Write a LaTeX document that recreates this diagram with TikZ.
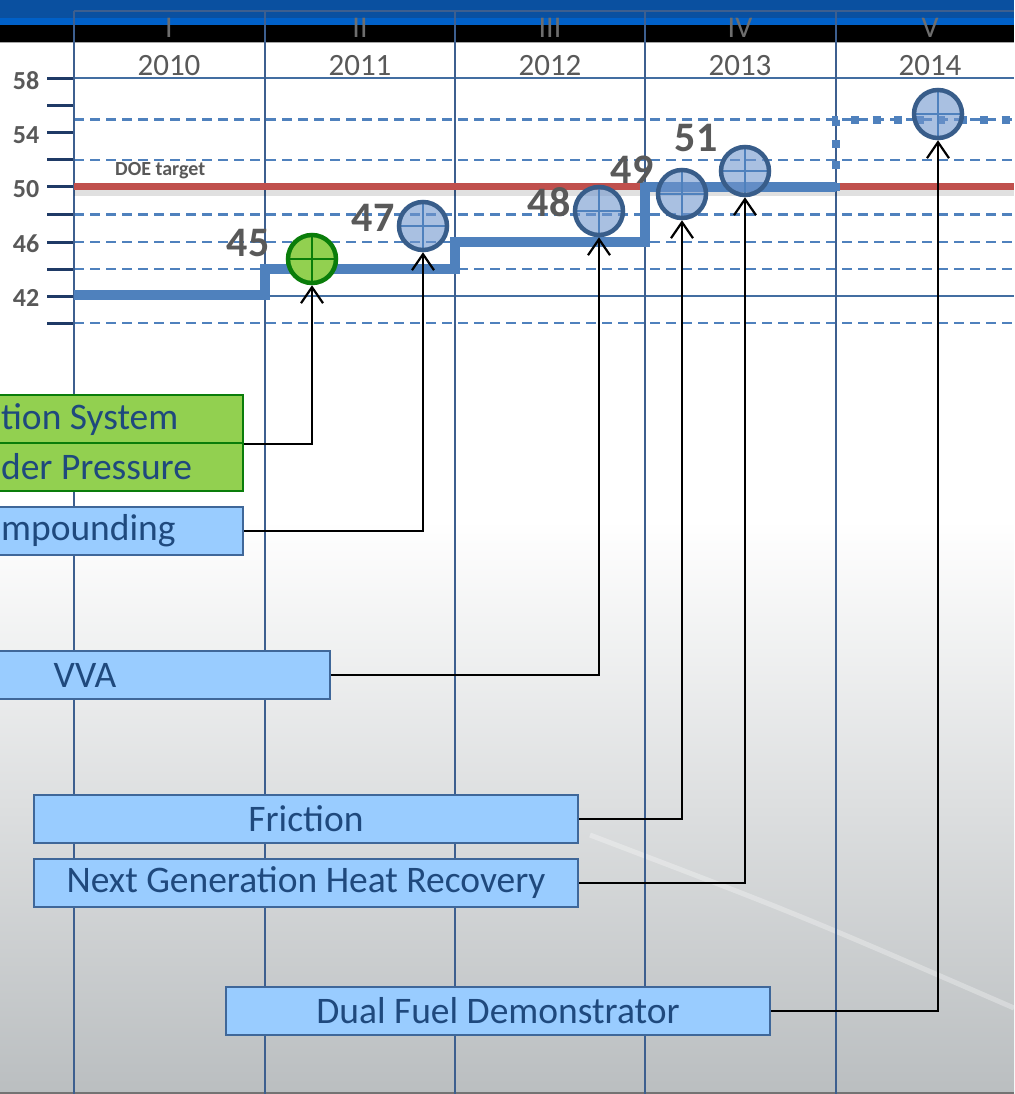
\documentclass[tikz,border=0pt]{standalone}
\usepackage{fontspec}
\setmainfont{Carlito}
\usetikzlibrary{arrows.meta}
\definecolor{hdrblue}{RGB}{10,80,160}
\definecolor{hdrblue2}{RGB}{0,96,200}
\definecolor{colblue}{RGB}{61,95,143}
\definecolor{dashblue}{RGB}{79,129,189}
\definecolor{navy}{RGB}{31,58,102}
\definecolor{targetred}{RGB}{192,80,77}
\definecolor{labgray}{RGB}{89,89,89}
\definecolor{romgray}{RGB}{110,110,110}
\definecolor{boxfill}{RGB}{153,204,255}
\definecolor{boxborder}{RGB}{63,103,153}
\definecolor{boxtext}{RGB}{31,73,125}
\definecolor{gfill}{RGB}{146,208,80}
\definecolor{gborder}{RGB}{10,125,10}
\definecolor{circborder}{RGB}{56,93,138}
\definecolor{circfill}{RGB}{113,150,205}
\definecolor{bgbottom}{RGB}{186,190,192}
\tikzset{
  colline/.style={draw=colblue, line width=2.5pt},
  dashgrid/.style={draw=dashblue, line width=2.2pt, dash pattern=on 10pt off 6pt},
  solidgrid/.style={draw=dashblue!85!black, line width=2pt},
  tickmark/.style={draw=navy, line width=3pt},
  ylab/.style={text=labgray, font=\fontsize{26}{30}\selectfont\bfseries, inner sep=0pt, text depth=0pt},
  yearlab/.style={text=labgray, font=\fontsize{31}{36}\selectfont, inner sep=0pt, text depth=0pt},
  romlab/.style={text=romgray, font=\fontsize{30}{36}\selectfont, inner sep=0pt, text depth=0pt},
  vallab/.style={text=labgray, font=\fontsize{42}{48}\selectfont\bfseries, inner sep=0pt, text depth=0pt},
  bbox/.style={rectangle, draw=boxborder, fill=boxfill, line width=2.2pt, minimum height=48pt,
    inner sep=0pt, text=boxtext, font=\fontsize{37.5}{44}\selectfont},
  gbox/.style={bbox, draw=gborder, fill=gfill},
  mcirc/.style={circle, minimum size=48pt, inner sep=0pt, draw=circborder, fill=circfill,
    fill opacity=0.6, line width=4.5pt,
    path picture={\draw[dashblue, line width=2pt, draw opacity=1]
      (path picture bounding box.north) -- (path picture bounding box.south)
      (path picture bounding box.west) -- (path picture bounding box.east);}},
  gcirc/.style={circle, minimum size=48pt, inner sep=0pt, draw=gborder, fill=gfill,
    line width=4.5pt,
    path picture={\draw[gborder, line width=2pt]
      (path picture bounding box.north) -- (path picture bounding box.south)
      (path picture bounding box.west) -- (path picture bounding box.east);}},
  conn/.style={draw=black, line width=2.2pt, -{Straight Barb[length=16pt, width=22pt]}},
  stepline/.style={draw=dashblue, line width=10pt},
  dotline/.style={draw=dashblue, line width=8pt, dash pattern=on 8pt off 13.5pt}
}
\begin{document}
\begin{tikzpicture}[x=1pt,y=-1pt]
\useasboundingbox (0,0) rectangle (1014,1094);
\clip (0,0) rectangle (1014,1094);
% background
\fill[white] (0,0) rectangle (1014,1094);
\shade[top color=white, bottom color=bgbottom] (0,520) rectangle (1014,1094);
\draw[white, opacity=0.3, line width=5pt] (590,835) .. controls (800,915) .. (1014,1008);
\draw[black!55, line width=2pt] (0,1093) -- (1014,1093);
% header bands
\fill[hdrblue] (0,0) rectangle (1014,18);
\fill[hdrblue2] (0,18) rectangle (1014,25);
\fill[black] (0,25) rectangle (1014,42);
\draw[black!35, line width=1.5pt] (0,42.5) -- (1014,42.5);
% roman numerals and years
\node[romlab] (r1) at (169,28) {I};
\node[romlab] (r2) at (360,28) {II};
\node[romlab] (r3) at (550,28) {III};
\node[romlab] (r4) at (740,28) {IV};
\node[romlab] (r5) at (930,28) {V};
\node[yearlab] (y1) at (169,65) {2010};
\node[yearlab] (y2) at (360,65) {2011};
\node[yearlab] (y3) at (550,65) {2012};
\node[yearlab] (y4) at (740,65) {2013};
\node[yearlab] (y5) at (930,65) {2014};
% horizontal grid
\draw[colline, line width=2pt] (74,11) -- (1014,11);
\draw[solidgrid] (74,78.5) -- (1014,78.5);
\draw[solidgrid] (74,296) -- (1014,296);
\foreach \yy in {119.5,160,214.5,242,269,323}
  \draw[dashgrid] (74,\yy) -- (1014,\yy);
% ticks
\foreach \yy in {78.5,105.5,133,160,187,214.5,242,269,296,323}
  \draw[tickmark] (47,\yy) -- (74,\yy);
% y labels
\node[ylab] (l58) at (26,81) {58};
\node[ylab] (l54) at (26,135) {54};
\node[ylab] (l50) at (26,189) {50};
\node[ylab] (l46) at (26,244) {46};
\node[ylab] (l42) at (26,298) {42};
% column lines
\foreach \xx in {74,265,455,645,836}
  \draw[colline] (\xx,11) -- (\xx,1094);
% DOE target
\draw[black, opacity=0.12, line width=6pt] (74,193) -- (1014,193);
\draw[targetred, line width=7pt] (74,187) -- (1014,187);
\node[text=labgray, font=\fontsize{20}{24}\selectfont\bfseries, inner sep=0pt, anchor=west] (doe) at (115,171) {DOE target};
% step line
\draw[stepline] (74,295) -- (265,295) -- (265,269) -- (455,269) -- (455,242) -- (645,242) -- (645,187) -- (836,187);
\draw[dotline] (836,191) -- (836,120) -- (1014,120);
% boxes
\node[gbox, anchor=north west, text width=240pt, inner xsep=2pt, align=flush left] (g1) at (-2,394) {tion System};
\node[gbox, anchor=north west, text width=240pt, inner xsep=2pt, align=flush left] (g2) at (-2,442) {der Pressure};
\node[bbox, anchor=north west, text width=240pt, inner xsep=2pt, align=flush left] (cp) at (-2,506) {mpounding};
\node[bbox, minimum width=490pt] (vva) at (85,675) {VVA};
\node[bbox, minimum width=544pt] (fr) at (306,819) {Friction};
\node[bbox, minimum width=544pt] (ng) at (306,883) {Next Generation Heat Recovery};
\node[bbox, minimum width=544pt] (df) at (498,1011) {Dual Fuel Demonstrator};
% circles
\node[gcirc] (c45) at (312,259) {};
\node[mcirc] (c47) at (423,226) {};
\node[mcirc] (c48) at (599,211) {};
\node[mcirc] (c49) at (682,194) {};
\node[mcirc] (c51) at (745,171) {};
\node[mcirc] (c55) at (938,114) {};
% value labels
\node[vallab] (v45) at (248,243) {45};
\node[vallab] (v47) at (373,218) {47};
\node[vallab] (v48) at (549,202) {48};
\node[vallab] (v49) at (632,170) {49};
\node[vallab] (v51) at (696,138) {51};
% connectors
\draw[conn] (g1.south east) -| (c45.south);
\draw[conn] (cp.east) -| (c47.south);
\draw[conn] (vva.east) -| (c48.south);
\draw[conn] (fr.east) -| (c49.south);
\draw[conn] (ng.east) -| (c51.south);
\draw[conn] (df.east) -| (c55.south);
\end{tikzpicture}
\end{document}
